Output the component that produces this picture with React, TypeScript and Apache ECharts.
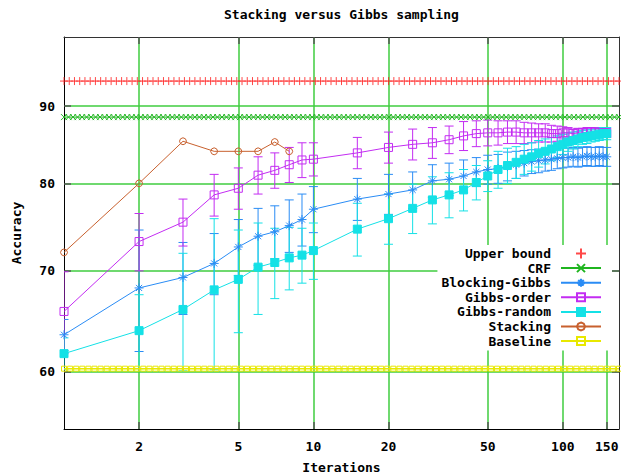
import React, { useEffect, useRef } from 'react';
import * as echarts from 'echarts';

const chartTitle = 'Stacking versus Gibbs sampling';
const xTicks = [2, 5, 10, 20, 50, 100, 150];
const yTicks = [60, 70, 80, 90];

const iterations = [1, 2, 3, 4, 5, 6, 7, 8, 9, 10, 15, 20, 25, 30, 35, 40, 45, 50, 55, 60, 65, 70, 75, 80, 85, 90, 95, 100, 105, 110, 115, 120, 125, 130, 135, 140, 145, 150];

const blockingGibbs = [63.5, 68.2, 69.3, 70.8, 72.6, 73.8, 74.3, 75.0, 75.7, 76.9, 78.1, 78.7, 79.2, 80.3, 80.5, 80.9, 81.4, 81.7, 81.8, 82.1, 82.3, 82.5, 82.7, 82.8, 82.9, 83.0, 83.1, 83.2, 83.2, 83.3, 83.2, 83.3, 83.4, 83.3, 83.3, 83.4, 83.3, 83.3];
const blockingGibbsErr = [1.5, 6.3, 3.8, 3.3, 3.1, 3.2, 3.0, 3.0, 3.0, 2.7, 2.5, 2.4, 2.2, 2.0, 2.0, 2.0, 1.8, 1.8, 1.8, 1.8, 1.7, 1.6, 1.5, 1.5, 1.4, 1.4, 1.3, 1.3, 1.2, 1.2, 1.2, 1.2, 1.2, 1.2, 1.2, 1.2, 1.2, 1.2];

const gibbsOrder = [65.8, 73.2, 75.4, 78.6, 79.4, 81.0, 81.6, 82.3, 82.9, 83.0, 83.8, 84.5, 84.9, 85.1, 85.5, 86.0, 86.3, 86.4, 86.4, 86.5, 86.5, 86.4, 86.4, 86.4, 86.4, 86.3, 86.3, 86.4, 86.4, 86.3, 86.4, 86.4, 86.5, 86.5, 86.5, 86.4, 86.4, 86.4];
const gibbsOrderErr = [4.1, 3.2, 2.7, 2.5, 2.5, 2.3, 2.2, 2.2, 2.2, 2.1, 2.0, 2.0, 2.0, 2.0, 1.8, 1.9, 1.7, 1.7, 1.6, 1.5, 1.5, 1.4, 1.3, 1.2, 1.2, 1.1, 1.0, 0.8, 0.7, 0.6, 0.6, 0.6, 0.6, 0.6, 0.6, 0.6, 0.6, 0.6];

const gibbsRandom = [61.7, 63.9, 66.0, 68.0, 69.1, 70.4, 70.9, 71.4, 71.7, 72.2, 74.6, 75.8, 77.0, 78.0, 78.6, 79.2, 80.1, 80.9, 81.7, 82.2, 82.6, 83.0, 83.3, 83.7, 84.0, 84.3, 84.6, 84.9, 85.2, 85.4, 85.6, 85.8, 85.9, 86.0, 86.1, 86.2, 86.3, 86.3];
const gibbsRandomErr = [1.5, 3.6, 5.9, 7.8, 5.4, 4.9, 3.8, 3.4, 3.0, 3.1, 3.0, 2.9, 2.9, 2.8, 2.7, 2.5, 2.1, 1.9, 2.3, 2.2, 2.0, 1.9, 1.8, 1.7, 1.6, 1.5, 1.4, 1.3, 1.2, 1.1, 1.0, 0.9, 0.9, 0.8, 0.8, 0.8, 0.8, 0.8];

const stackingIterations = [1, 2, 3, 4, 5, 6, 7, 8];
const stacking = [72.0, 80.0, 85.3, 84.0, 84.0, 84.0, 85.2, 84.0];

const upperBound = 93.5;
const crf = 88.5;
const baseline = 60.3;

// gnuplot samples a constant function at evenly spaced points (log x axis)
const X_MIN = 1;
const X_MAX = 168;
const Y_MIN = 55;
const Y_MAX = 100;
function functionSamples(n: number): number[] {
  const out: number[] = [];
  for (let i = 0; i < n; i++) out.push(Math.pow(X_MAX / X_MIN, i / (n - 1)) * X_MIN);
  return out;
}

const FONT = 'DejaVu Sans Mono';
const C_RED = '#ff1a1a';
const C_GREEN = '#1fb51f';
const C_BLUE = '#2a8cf5';
const C_MAGENTA = '#c32cf2';
const C_CYAN = '#14e1e6';
const C_BROWN = '#c8602e';
const C_YELLOW = '#e8e800';
const C_GRID = '#3fcc3f';

const SYM_PLUS = 'path://M5,0L5,10M0,5L10,5';
const SYM_CROSS = 'path://M0,0L10,10M10,0L0,10';
const SYM_STAR = 'path://M5,0L5,10M0,5L10,5M1.6,1.6L8.4,8.4M8.4,1.6L1.6,8.4';
const SYM_BOX = 'path://M0,0L10,0L10,10L0,10Z';
const SYM_RING = 'path://M5,0L8.5,1.5L10,5L8.5,8.5L5,10L1.5,8.5L0,5L1.5,1.5Z';
const TRANSPARENT = 'rgba(0,0,0,0)';

function errorBars(color: string, xs: number[], ys: number[], errs: number[]) {
  const data = xs.map((x, i) => [x, ys[i] - errs[i], ys[i] + errs[i]]);
  return {
    type: 'custom',
    silent: true,
    clip: true,
    data,
    encode: { x: 0, y: [1, 2] },
    renderItem: (_params: any, api: any) => {
      const x = api.value(0);
      const lo = api.coord([x, api.value(1)]);
      const hi = api.coord([x, api.value(2)]);
      const h = 4.5;
      const style = { stroke: color, lineWidth: 1, fill: 'none' };
      return {
        type: 'group',
        children: [
          { type: 'line', shape: { x1: lo[0], y1: lo[1], x2: hi[0], y2: hi[1] }, style },
          { type: 'line', shape: { x1: lo[0] - h, y1: lo[1], x2: lo[0] + h, y2: lo[1] }, style },
          { type: 'line', shape: { x1: hi[0] - h, y1: hi[1], x2: hi[0] + h, y2: hi[1] }, style },
        ],
      };
    },
  };
}

function lineSeries(name: string, color: string, xs: number[], ys: number[], symbol: string, size: number, fill: string, lineWidth = 1) {
  return {
    name,
    type: 'line',
    data: xs.map((x, i) => [x, ys[i]]),
    symbol,
    symbolSize: size,
    showSymbol: true,
    lineStyle: { color, width: lineWidth },
    itemStyle: { color: fill, borderColor: color, borderWidth: 1 },
    emphasis: { disabled: true },
  };
}

export default function App() {
  const ref = useRef<HTMLDivElement>(null);
  useEffect(() => {
    const chart = echarts.init(ref.current!, null, { renderer: 'svg' });
    const labelStyle = { fontFamily: FONT, fontWeight: 'bold', fontSize: 13, color: '#000' };
    const upperXs = functionSamples(107);
    const crfXs = functionSamples(124);
    const baseXs = functionSamples(92);
    const option: any = {
      animation: false,
      backgroundColor: '#fff',
      title: {
        text: chartTitle,
        left: 219,
        top: 3,
        textStyle: { ...labelStyle },
      },
      grid: { left: 64, top: 37, right: 2, bottom: 46, containLabel: false, outerBoundsMode: 'none' },
      legend: {
        orient: 'vertical',
        align: 'right',
        right: 9,
        top: 245,
        padding: [2, 10, 3, 4],
        backgroundColor: '#fff',
        itemWidth: 40,
        itemHeight: 10,
        itemGap: 1.6,
        selectedMode: false,
        textStyle: { ...labelStyle, lineHeight: 13, padding: [0, 5, 0, 0] },
        data: ['Upper bound', 'CRF', 'Blocking-Gibbs', 'Gibbs-order', 'Gibbs-random', 'Stacking', 'Baseline'],
      },
      xAxis: [
        {
          type: 'log',
          logBase: 10,
          min: X_MIN,
          max: X_MAX,
          position: 'bottom',
          name: 'Iterations',
          nameLocation: 'middle',
          nameGap: 32,
          nameTextStyle: { ...labelStyle },
          axisLine: { show: true, lineStyle: { color: '#000', width: 1 } },
          axisTick: { show: true, inside: true, length: 7, customValues: xTicks, lineStyle: { color: '#555', width: 1.5 } },
          axisLabel: { show: true, customValues: xTicks, margin: 11, ...labelStyle },
          splitLine: { show: true, lineStyle: { color: C_GRID, width: 1.5 } },
        },
        {
          type: 'log',
          logBase: 10,
          min: X_MIN,
          max: X_MAX,
          position: 'top',
          axisLine: { show: true, lineStyle: { color: '#333', width: 1 } },
          axisTick: { show: true, inside: true, length: 7, customValues: xTicks, lineStyle: { color: '#555', width: 1.5 } },
          axisLabel: { show: false },
          splitLine: { show: false },
        },
      ],
      yAxis: [
        {
          type: 'log',
          logBase: 10,
          min: Y_MIN,
          max: Y_MAX,
          position: 'left',
          name: 'Accuracy',
          nameLocation: 'middle',
          nameGap: 41,
          nameTextStyle: { ...labelStyle },
          axisLine: { show: true, lineStyle: { color: '#000', width: 1 } },
          axisTick: { show: true, inside: true, length: 7, customValues: yTicks, lineStyle: { color: '#555', width: 1.5 } },
          axisLabel: { show: true, customValues: yTicks, margin: 9, ...labelStyle },
          splitLine: { show: true, lineStyle: { color: C_GRID, width: 1.5 } },
        },
        {
          type: 'log',
          logBase: 10,
          min: Y_MIN,
          max: Y_MAX,
          position: 'right',
          axisLine: { show: true, lineStyle: { color: '#333', width: 1 } },
          axisTick: { show: true, inside: true, length: 7, customValues: yTicks, lineStyle: { color: '#555', width: 1.5 } },
          axisLabel: { show: false },
          splitLine: { show: false },
        },
      ],
      series: [
        {
          name: 'Upper bound',
          type: 'scatter',
          data: upperXs.map((x) => [x, upperBound]),
          symbol: SYM_PLUS,
          symbolSize: 8,
          itemStyle: { color: C_RED, borderColor: C_RED, borderWidth: 1 },
          emphasis: { disabled: true },
        },
        lineSeries('CRF', C_GREEN, crfXs, crfXs.map(() => crf), SYM_CROSS, 6, C_GREEN),
        errorBars(C_BLUE, iterations, blockingGibbs, blockingGibbsErr),
        lineSeries('Blocking-Gibbs', C_BLUE, iterations, blockingGibbs, SYM_STAR, 9, C_BLUE),
        errorBars(C_MAGENTA, iterations, gibbsOrder, gibbsOrderErr),
        lineSeries('Gibbs-order', C_MAGENTA, iterations, gibbsOrder, SYM_BOX, 8, TRANSPARENT),
        errorBars(C_CYAN, iterations, gibbsRandom, gibbsRandomErr),
        lineSeries('Gibbs-random', C_CYAN, iterations, gibbsRandom, 'rect', 8, C_CYAN),
        lineSeries('Stacking', C_BROWN, stackingIterations, stacking, SYM_RING, 7, TRANSPARENT),
        lineSeries('Baseline', C_YELLOW, baseXs, baseXs.map(() => baseline), SYM_BOX, 5, TRANSPARENT, 1.5),
      ],
    };
    chart.setOption(option);
    return () => chart.dispose();
  }, []);
  return <div ref={ref} style={{ position: 'fixed', left: 0, top: 0, width: 621, height: 475 }} />;
}
